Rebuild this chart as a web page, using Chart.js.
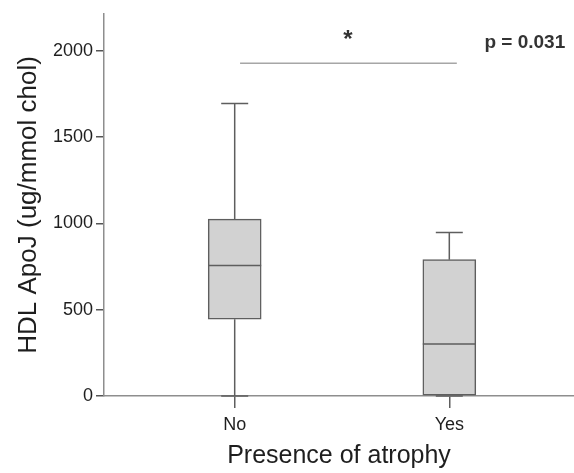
<!DOCTYPE html>
<html>
<head>
<meta charset="utf-8">
<title>HDL ApoJ by atrophy</title>
<script src="https://cdn.jsdelivr.net/npm/chart.js@4.4.1/dist/chart.umd.min.js"></script>
<style>
  html, body { margin: 0; padding: 0; background: #fff; }
  #wrap { width: 574px; height: 473px; position: relative; }
</style>
</head>
<body>
<div id="wrap"><canvas id="boxChart"></canvas></div>
<script>
// Group summaries (ug/mmol chol)
const groups = ["No", "Yes"];
const groupPos = [1, 2];
const whiskerLow = [0, 0];
const q1 = [445, 0];
const medians = [757, 302];
const q3 = [1025, 790];
const whiskerHigh = [1695, 947];
const yTicks = [0, 500, 1000, 1500, 2000];

// Significance bracket between the groups
const bracketFrom = [1.025, 1928];
const bracketTo = [2.035, 1928];
const starLabel = "*";
const starAt = [1.528, 2060];
const pLabel = "p = 0.031";
const pAt = [2.352, 2045];

const FONT = "'Liberation Sans', Arial, sans-serif";
const BOX_EDGE = "#5e5e5e";
const AXIS = "#8e8e8e";
const TEXT = "#1e1e1e";

// Whiskers, caps, medians and the bracket, all placed via the scales
const boxExtras = {
  id: "boxExtras",
  afterDatasetsDraw(chart) {
    const { ctx, scales: { x, y } } = chart;
    const half = 26.5;
    const cap = 13.5;
    ctx.save();
    ctx.strokeStyle = BOX_EDGE;
    ctx.lineWidth = 1.5;
    groupPos.forEach((g, i) => {
      const px = x.getPixelForValue(g);
      ctx.beginPath();
      // upper whisker + cap
      ctx.moveTo(px, y.getPixelForValue(q3[i]));
      ctx.lineTo(px, y.getPixelForValue(whiskerHigh[i]));
      ctx.moveTo(px - cap, y.getPixelForValue(whiskerHigh[i]));
      ctx.lineTo(px + cap, y.getPixelForValue(whiskerHigh[i]));
      // lower whisker + cap
      ctx.moveTo(px, y.getPixelForValue(q1[i]));
      ctx.lineTo(px, y.getPixelForValue(whiskerLow[i]));
      ctx.moveTo(px - cap, y.getPixelForValue(whiskerLow[i]));
      ctx.lineTo(px + cap, y.getPixelForValue(whiskerLow[i]));
      // median
      ctx.moveTo(px - half, y.getPixelForValue(medians[i]));
      ctx.lineTo(px + half, y.getPixelForValue(medians[i]));
      ctx.stroke();
    });

    ctx.strokeStyle = "#a6a6a6";
    ctx.lineWidth = 1.5;
    ctx.beginPath();
    ctx.moveTo(x.getPixelForValue(bracketFrom[0]), y.getPixelForValue(bracketFrom[1]));
    ctx.lineTo(x.getPixelForValue(bracketTo[0]), y.getPixelForValue(bracketTo[1]));
    ctx.stroke();

    ctx.fillStyle = "#333";
    ctx.textAlign = "center";
    ctx.textBaseline = "middle";
    ctx.font = "bold 24px " + FONT;
    ctx.fillText(starLabel, x.getPixelForValue(starAt[0]), y.getPixelForValue(starAt[1]));
    ctx.font = "bold 19px " + FONT;
    ctx.fillText(pLabel, x.getPixelForValue(pAt[0]), y.getPixelForValue(pAt[1]));
    ctx.restore();
  }
};

const ctx = document.getElementById("boxChart").getContext("2d");
new Chart(ctx, {
  type: "bar",
  data: {
    datasets: [
      {
        label: "IQR",
        data: groupPos.map((g, i) => ({ x: g, y: [q1[i], q3[i]] })),
        backgroundColor: "#d2d2d2",
        borderColor: BOX_EDGE,
        borderWidth: 1.5,
        borderSkipped: false,
        barThickness: 53,
      },
    ],
  },
  options: {
    responsive: true,
    maintainAspectRatio: false,
    animation: false,
    layout: { padding: { top: 12, right: 0, left: 0, bottom: 0 } },
    plugins: {
      legend: { display: false },
      tooltip: { enabled: false },
    },
    scales: {
      x: {
        type: "linear",
        offset: false,
        min: 0.391,
        max: 2.581,
        afterBuildTicks: (scale) => {
          scale.ticks = groupPos.map((v) => ({ value: v }));
        },
        afterFit: (scale) => {
          scale.height = 77;
        },
        ticks: {
          autoSkip: false,
          maxRotation: 0,
          padding: 6,
          color: TEXT,
          font: { family: FONT, size: 18 },
          callback: (v) => groups[groupPos.indexOf(v)],
        },
        grid: {
          offset: false,
          drawOnChartArea: false,
          drawTicks: true,
          tickLength: 12,
          color: "#5e5e5e",
          lineWidth: 1.5,
        },
        border: { display: true, color: AXIS, width: 1.5 },
        title: {
          display: true,
          text: "Presence of atrophy",
          color: TEXT,
          font: { family: FONT, size: 25 },
          padding: { top: 0, bottom: 2 },
        },
      },
      y: {
        min: 0,
        max: 2215,
        afterBuildTicks: (scale) => {
          scale.ticks = yTicks.map((v) => ({ value: v }));
        },
        afterFit: (scale) => {
          scale.width = 104;
        },
        ticks: {
          padding: 3,
          color: TEXT,
          font: { family: FONT, size: 18 },
          callback: (v) => String(v),
        },
        grid: {
          drawOnChartArea: false,
          drawTicks: true,
          tickLength: 8,
          color: "#555",
          lineWidth: 1.5,
        },
        border: { display: true, color: AXIS, width: 1.5 },
        title: {
          display: true,
          text: "HDL ApoJ (ug/mmol chol)",
          color: TEXT,
          font: { family: FONT, size: 26 },
          padding: { top: 13, bottom: 0 },
        },
      },
    },
  },
  plugins: [boxExtras],
});
</script>
</body>
</html>
